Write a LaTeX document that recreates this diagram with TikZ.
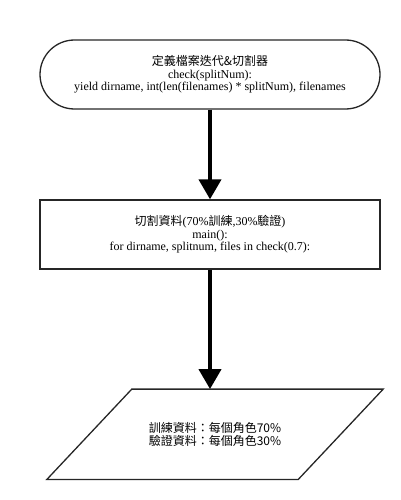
\documentclass[tikz,border=0pt]{standalone}
\usepackage{fontspec}
\setmainfont{Liberation Serif}
\newfontfamily\cjk{Noto Sans CJK TC}
\usetikzlibrary{arrows.meta}
\tikzset{
  box/.style={draw=black!85, line width=1.3pt, align=center, inner sep=0pt,
    font=\fontsize{12}{12.5}\selectfont},
  flow/.style={line width=4pt, -{Triangle[width=22pt,length=20pt]}},
}
\begin{document}
\begin{tikzpicture}[x=1pt,y=-1pt]
\useasboundingbox (0,0) rectangle (400,500);
\node[box, rounded corners=34.5pt, minimum width=340pt, minimum height=69pt] (t) at (210,74.5)
  {{\cjk 定義檔案迭代\&切割器}\\check(splitNum):\\yield dirname, int(len(filenames) * splitNum), filenames};
\node[box, minimum width=340pt, minimum height=69pt] (r) at (210,234.5)
  {{\cjk 切割資料}(70\%{\cjk 訓練},30\%{\cjk 驗證})\\main():\\for dirname, splitnum, files in check(0.7):};
\node[align=center, inner sep=0pt, minimum width=251pt, minimum height=90pt,
  font=\cjk\fontsize{12}{12.5}\selectfont] (io) at (215,434.3)
  {訓練資料：每個角色70\%\\驗證資料：每個角色30\%};
\draw[draw=black!85, line width=1.3pt, line join=miter]
  ([xshift=42.5pt]io.north west) -- ([xshift=42.5pt]io.north east)
  -- ([xshift=-42.5pt]io.south east) -- ([xshift=-42.5pt]io.south west) -- cycle;
\draw[flow] (t.south) -- (r.north);
\draw[flow] (r.south) -- (r.south |- io.north);
\end{tikzpicture}
\end{document}
